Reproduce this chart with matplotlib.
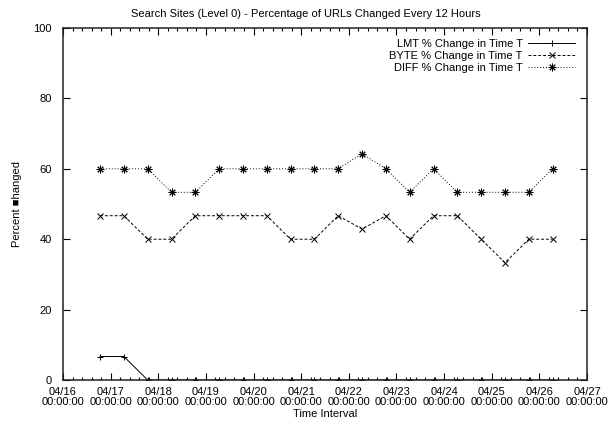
import matplotlib
matplotlib.use('Agg')
from matplotlib import pyplot as plt
from matplotlib.ticker import MultipleLocator, AutoMinorLocator
import pandas as pd

plt.rcParams['font.family'] = ['Liberation Sans', 'DejaVu Sans']
plt.rcParams['font.size'] = 8

# sample times, one every 12 hours
times = pd.date_range('2001-04-16 18:40', periods=20, freq='12h')
day0 = pd.Timestamp('2001-04-16')
xdays = [(t - day0) / pd.Timedelta(days=1) for t in times]

lmt = [6.67, 6.67, 0, 0, 0, 0, 0, 0, 0, 0, 0, 0, 0, 0, 0, 0, 0, 0, 0, 0]
byte = [46.67, 46.67, 40, 40, 46.67, 46.67, 46.67, 46.67, 40, 40,
        46.67, 42.86, 46.67, 40, 46.67, 46.67, 40, 33.33, 40, 40]
diff = [60, 60, 60, 53.33, 53.33, 60, 60, 60, 60, 60,
        60, 64.29, 60, 53.33, 60, 53.33, 53.33, 53.33, 53.33, 60]

day_labels = ['04/16', '04/17', '04/18', '04/19', '04/20', '04/21',
              '04/22', '04/23', '04/24', '04/25', '04/26', '04/27']

fig = plt.figure(figsize=(6.12, 4.24), dpi=100)
ax = fig.add_axes([63 / 612, 1 - 380 / 424, 524 / 612, 352 / 424])

ax.plot(xdays, lmt, color='black', lw=0.7, ls='-', marker='+', ms=5, mew=0.7,
        label='LMT % Change in Time T')
ax.plot(xdays, byte, color='black', lw=0.7, ls=(0, (3, 2)), marker='x', ms=4.5, mew=0.7,
        label='BYTE % Change in Time T')
ax.plot(xdays, diff, color='black', lw=0.7, ls=(0, (1, 2)), marker=(8, 2, 0), ms=5.5, mew=0.7,
        label='DIFF % Change in Time T')

ax.set_xlim(0, 11)
ax.set_ylim(0, 100)
ax.set_xticks(range(len(day_labels)))
ax.set_xticklabels([d + '\n00:00:00' for d in day_labels], linespacing=1.05)
ax.xaxis.set_minor_locator(AutoMinorLocator(5))
ax.yaxis.set_major_locator(MultipleLocator(20))

ax.tick_params(which='both', direction='in', top=True, right=True, width=0.8)
ax.tick_params(which='major', length=5)
ax.tick_params(which='minor', length=2.5)
ax.tick_params(axis='x', pad=5)
ax.tick_params(axis='y', pad=8)
for s in ax.spines.values():
    s.set_linewidth(1.1)
    s.set_color('#222222')

fig.text(0.5, 1 - 14 / 424, 'Search Sites (Level 0) - Percentage of URLs Changed Every 12 Hours',
         ha='center', va='center', fontsize=8)
ax.set_xlabel('Time Interval', labelpad=1)
ax.set_ylabel('Percent \u25a0hanged', labelpad=8)

ax.legend(loc='upper right', bbox_to_anchor=(0.977, 0.968), frameon=False,
          markerfirst=False, numpoints=1, handlelength=4.2, handletextpad=0.5,
          labelspacing=0.15, borderpad=0, borderaxespad=0)

fig.savefig('out.png', dpi=100)
